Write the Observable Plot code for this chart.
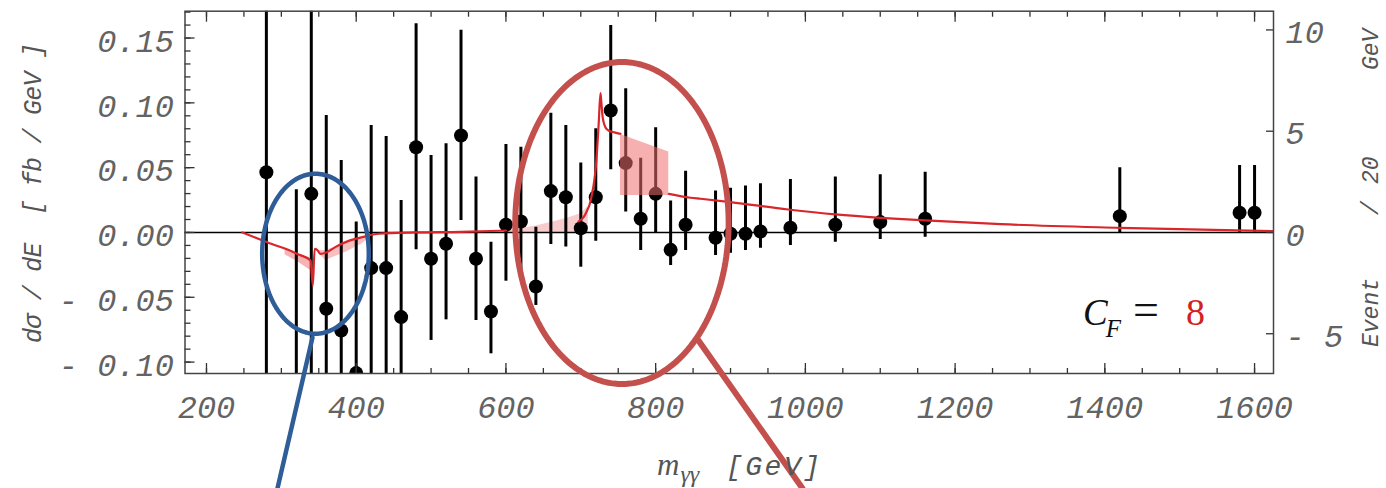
<!DOCTYPE html>
<html><head><meta charset="utf-8">
<script src="https://cdn.jsdelivr.net/npm/d3@7"></script>
<script src="https://cdn.jsdelivr.net/npm/@observablehq/plot@0.6"></script>
<style>html,body{margin:0;padding:0;background:#fff;}</style>
</head><body><div id="chart"></div>
<script>
// ---- measured data points (m_γγ in GeV, dσ/dE in fb/GeV) ----
const mass  = [280,320,340,360,380,400,420,440,460,480,500,520,540,560,580,600,620,640,660,680,700,720,740,760,780,800,820,840,880,900,920,940,980,1040,1100,1160,1420,1580,1600];
const sigma = [0.0465,-0.14,0.0298,-0.0589,-0.0756,-0.1085,-0.0275,-0.0275,-0.0653,0.0658,-0.0203,-0.0087,0.0748,-0.0203,-0.061,0.0059,0.0085,-0.0417,0.0319,0.0272,0.0033,0.0272,0.0941,0.0535,0.0106,0.0298,-0.0134,0.0059,-0.0041,-0.001,-0.001,0.0008,0.0036,0.0059,0.008,0.0106,0.0126,0.0152,0.0152];
const errLo = [-0.25,-0.35,-0.25,-0.21,-0.21,-0.23,-0.14,-0.13,-0.16,-0.0134,-0.0833,-0.0674,0.0093,-0.0679,-0.0936,-0.0376,-0.035,-0.0563,-0.0093,-0.0113,-0.0268,-0.0067,0.0484,0.0157,-0.0139,0.0,-0.0255,-0.0139,-0.0177,-0.016,-0.0139,-0.0121,-0.01,-0.0075,-0.0054,-0.0036,0,0,0];
const errHi = [0.25,0.033,0.25,0.0903,0.0556,0.008,0.0826,0.074,0.0247,0.161,0.0594,0.0684,0.156,0.0427,-0.0075,0.0679,0.0658,0.0041,0.092,0.0826,0.0535,0.080,0.1597,0.1109,0.0573,0.0808,0.0242,0.0473,0.0319,0.0342,0.0358,0.0376,0.0409,0.0427,0.0445,0.0465,0.0499,0.0517,0.0517];

// ---- theory curve (NaN = gap) ----
const curveM = [248,270,290,305.5,323,339,342,344.5,348,352,360,372,390,408,430,480,540,600,650,697,704,708.5,712,715,718,720,722,724,726.3,727.5,729,731,733,737,745,753,785,817.5,846.5,860,900,977,1040,1100,1160,1261,1420,1625];
const curveV = [0,-0.005,-0.0095,-0.0126,-0.017,-0.0215,-0.041,-0.0126,-0.0135,-0.0165,-0.0155,-0.0113,-0.0065,-0.0036,-0.001,0,0.0005,0.0015,NaN,0.0085,0.012,0.017,0.022,0.0298,0.040,0.050,0.0658,0.085,0.1075,0.100,0.090,0.084,0.081,0.0787,0.0772,0.0761,NaN,0.0298,0.0268,0.026,0.0234,0.0177,0.0139,0.0113,0.0093,0.0064,0.0036,0.001];

// ---- shaded bands ----
const dipBandM  = [305,323,339];
const dipBandHi = [-0.0126,-0.0165,-0.0203];
const dipBandLo = [-0.0172,-0.0229,-0.0293];
const dip2BandM  = [350,359,386,408,420];
const dip2BandHi = [-0.014,-0.0139,-0.0087,-0.0036,-0.002];
const dip2BandLo = [-0.016,-0.0216,-0.0152,-0.0087,-0.003];
const riseBandM  = [600,620,640,663,685,700,710];
const riseBandHi = [0.0015,0.003,0.005,0.008,0.0115,0.0145,0.02];
const riseBandLo = [0,0,0,0,0,0,0];
const peakBandM  = [753,817.5];
const peakBandHi = [0.0756,0.062];
const peakBandLo = [0.0285,0.0285];

// ---- axes ----
const xMajor = [200,400,600,800,1000,1200,1400,1600];
const xMinor = d3.range(200,1601,50);
const yMajor = [-0.10,-0.05,0,0.05,0.10,0.15];
const yMinor = d3.range(-10,18).map(k=>k/100);
const eventTicks = [-5,0,5,10];
const eventsPerUnit = 64; // 3.2 fb^-1 × 20 GeV bins

// ---- annotations (data units) ----
const ellipseCx = [345.6, 755];
const ellipseCy = [-0.0164, 0.0073];
const ellipseRx = [71.2, 142.5];
const ellipseRy = [0.0617, 0.1242];
const ellipseColor = ["#2f5d98", "#c4504e"];
const ellipseWidth = [4.5, 6];
const pointerM = [[341.6, 294.8],[857.2, 996.2]];
const pointerV = [[-0.081, -0.1975],[-0.0833, -0.1975]];

const data = mass.map((m,i)=>({m, v:sigma[i], lo:errLo[i], hi:errHi[i]}));
const curve = curveM.map((m,i)=>({m, v:curveV[i]}));
const band = (M,H,L)=>M.map((m,i)=>({m, hi:H[i], lo:L[i]}));
const ellipse = i => d3.range(181).map(k=>{const t=2*Math.PI*k/180; return {m:ellipseCx[i]+ellipseRx[i]*Math.cos(t), v:ellipseCy[i]+ellipseRy[i]*Math.sin(t)};});
const pointer = i => pointerM[i].map((m,k)=>({m, v:pointerV[i][k]}));

const fmtLeft = d => (d < 0 ? "- " : "") + Math.abs(d).toFixed(2);
const fmtEvent = e => e < 0 ? "- " + (-e) : String(e);
const tickFont = {fontSize: 32, fontFamily: "'Liberation Mono', monospace", fontStyle: "italic", fill: "#636363"};
const tickCol = "#333";

const plot = Plot.plot({
  width: 1386, height: 488,
  marginLeft: 184.5, marginRight: 113, marginTop: 10.7, marginBottom: 115,
  x: {domain: [171.3, 1625.3]},
  y: {domain: [-0.1088, 0.1707]},
  style: {background: "#fff", overflow: "visible"},
  marks: [
    Plot.areaY(band(riseBandM,riseBandHi,riseBandLo), {x:"m", y1:"lo", y2:"hi", fill:"#f29a9a", fillOpacity:0.5}),
    Plot.areaY(band(dipBandM,dipBandHi,dipBandLo), {x:"m", y1:"lo", y2:"hi", fill:"#f08080", fillOpacity:0.6}),
    Plot.areaY(band(dip2BandM,dip2BandHi,dip2BandLo), {x:"m", y1:"lo", y2:"hi", fill:"#f08080", fillOpacity:0.5}),
    Plot.ruleY([0], {stroke:"#000", strokeWidth:1.5}),
    Plot.ruleX(data, {x:"m", y1:"lo", y2:"hi", stroke:"#000", strokeWidth:3, clip:true}),
    Plot.dot(data, {x:"m", y:"v", r:7, fill:"#000", clip:true}),
    Plot.line(curve, {x:"m", y:"v", stroke:"#d8262a", strokeWidth:2.2, curve:"monotone-x", clip:true}),
    Plot.areaY(band(peakBandM,peakBandHi,peakBandLo), {x:"m", y1:"lo", y2:"hi", fill:"#ee7070", fillOpacity:0.55}),
    // axes
    Plot.axisX(xMinor, {anchor:"bottom", tickSize:-5, fill:"none", stroke:tickCol, strokeWidth:1.3}),
    Plot.axisX(xMajor, {anchor:"bottom", tickSize:-10, fill:"none", stroke:tickCol, strokeWidth:1.3}),
    Plot.axisX(xMinor, {anchor:"top", tickSize:-5, fill:"none", stroke:tickCol, strokeWidth:1.3}),
    Plot.axisX(xMajor, {anchor:"top", tickSize:-10, fill:"none", stroke:tickCol, strokeWidth:1.3}),
    Plot.axisX(xMajor, {anchor:"bottom", tickSize:0, tickPadding:22, label:null, tickFormat:d=>String(d), ...tickFont}),
    Plot.axisY(yMinor, {anchor:"left", tickSize:-6, fill:"none", stroke:tickCol, strokeWidth:1.3}),
    Plot.axisY(yMajor, {anchor:"left", tickSize:-10, fill:"none", stroke:tickCol, strokeWidth:1.3}),
    Plot.axisY(yMajor, {anchor:"left", tickSize:0, tickPadding:11, label:null, tickFormat:fmtLeft, dy:3.5, ...tickFont}),
    Plot.axisY(eventTicks.map(e=>e/eventsPerUnit), {anchor:"right", tickSize:-8, fill:"none", stroke:tickCol, strokeWidth:1.3}),
    Plot.axisY(eventTicks.map(e=>e/eventsPerUnit), {anchor:"right", tickSize:0, tickPadding:12, label:null, tickFormat:d=>fmtEvent(Math.round(d*eventsPerUnit)), dy:3, ...tickFont}),
    Plot.frame({stroke:"#444", strokeWidth:1.5}),
    // annotations
    Plot.line(ellipse(0), {x:"m", y:"v", stroke:ellipseColor[0], strokeWidth:ellipseWidth[0]}),
    Plot.line(ellipse(1), {x:"m", y:"v", stroke:ellipseColor[1], strokeWidth:ellipseWidth[1]}),
    Plot.line(pointer(0), {x:"m", y:"v", stroke:ellipseColor[0], strokeWidth:ellipseWidth[0]}),
    Plot.line(pointer(1), {x:"m", y:"v", stroke:ellipseColor[1], strokeWidth:ellipseWidth[1]})
  ]
});

const svg = d3.select(plot);
const mono = "'Liberation Mono', monospace";
const serif = "'Liberation Serif', 'Times New Roman', serif";
const titleFill = "#555";
// left title
svg.append("text").attr("transform","translate(41,343) rotate(-90)").attr("text-anchor","start")
  .attr("font-family", mono).attr("font-style","italic").attr("font-size",25).attr("fill",titleFill)
  .attr("textLength",300).attr("lengthAdjust","spacing").attr("xml:space","preserve")
  .text("dσ / dE  [ fb / GeV ]");
// right title
const rt = svg.append("text").attr("transform","translate(1378,347) rotate(-90)").attr("text-anchor","start")
  .attr("font-family", mono).attr("font-style","italic").attr("font-size",23).attr("fill",titleFill);
rt.append("tspan").attr("x",0).text("Event");
rt.append("tspan").attr("x",132).text("/");
rt.append("tspan").attr("x",163).text("20");
rt.append("tspan").attr("x",277).text("GeV");
// x title
const xt = svg.append("text").attr("y",475).attr("fill",titleFill).attr("text-anchor","start");
xt.append("tspan").attr("x",657).attr("font-family",serif).attr("font-style","italic").attr("font-size",31).text("m");
xt.append("tspan").attr("dy",7).attr("dx",1).attr("font-family",serif).attr("font-style","italic").attr("font-size",24).text("γγ");
xt.append("tspan").attr("x",726).attr("dy",-7).attr("font-family",mono).attr("font-style","italic").attr("font-size",28).attr("textLength",94).text("[GeV]");
// C_F annotation
const cf = svg.append("text").attr("y",325).attr("font-family",serif).attr("fill","#111").attr("text-anchor","start");
cf.append("tspan").attr("x",1083).attr("font-style","italic").attr("font-size",37).text("C");
cf.append("tspan").attr("dy",12).attr("dx",-2).attr("font-style","italic").attr("font-size",25).text("F");
cf.append("tspan").attr("x",1133).attr("dy",-12).attr("font-size",46).text("=");
cf.append("tspan").attr("x",1186).attr("font-size",38).attr("fill","#d42020").text("8");

document.getElementById("chart").appendChild(plot);
</script>
</body></html>
